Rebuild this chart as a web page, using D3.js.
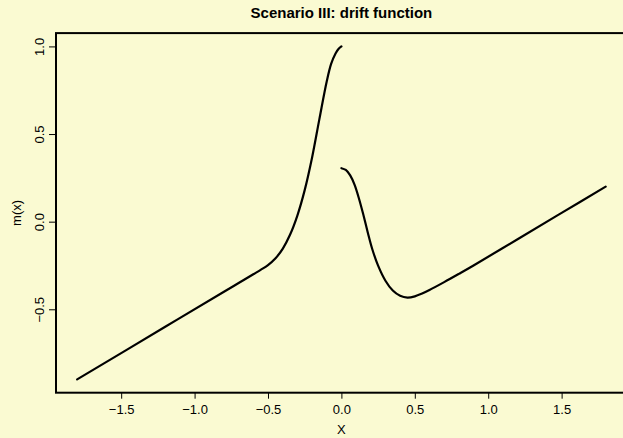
<!DOCTYPE html>
<html>
<head>
<meta charset="utf-8">
<script src="https://cdn.jsdelivr.net/npm/d3@7"></script>
<style>
  html, body { margin: 0; padding: 0; background: #FAFAD2; }
  svg { display: block; }
  text { font-family: "Liberation Sans", Arial, Helvetica, sans-serif; fill: #000; }
</style>
</head>
<body>
<svg id="chart" width="623" height="438"></svg>
<script>
// ---- data ----
const leftX  = [-1.8, -1.2, -0.8, -0.7, -0.6, -0.55, -0.5, -0.45, -0.4, -0.35, -0.3, -0.25, -0.2, -0.15, -0.1, -0.07, -0.04, -0.02, 0.0];
const leftY  = [-0.9, -0.6, -0.4, -0.35, -0.3, -0.275, -0.2475, -0.21, -0.155, -0.075, 0.035, 0.18, 0.365, 0.585, 0.80, 0.90, 0.96, 0.985, 1.0];
const rightX = [0.0, 0.03, 0.06, 0.09, 0.12, 0.15, 0.18, 0.21, 0.25, 0.3, 0.35, 0.4, 0.45, 0.5, 0.55, 0.6, 0.7, 0.8, 0.9, 1.2, 1.5, 1.8];
const rightY = [0.305, 0.295, 0.264, 0.21, 0.131, 0.038, -0.063, -0.156, -0.251, -0.337, -0.393, -0.423, -0.433, -0.426, -0.41, -0.39, -0.345, -0.298, -0.25, -0.1, 0.05, 0.2];
const xTicks = [-1.5, -1.0, -0.5, 0.0, 0.5, 1.0, 1.5];
const yTicks = [-0.5, 0.0, 0.5, 1.0];
const titleText = "Scenario III: drift function";
const xLabel = "X";
const yLabel = "m(x)";

const svg = d3.select("#chart");
const W = 623, H = 438;
svg.append("rect").attr("width", W).attr("height", H).attr("fill", "#FAFAD2");

// plot region (R-style 4% extension of data range)
const x = d3.scaleLinear().domain([-1.944, 1.944]).range([56, 626.8]);
const y = d3.scaleLinear().domain([-0.976, 1.076]).range([392.7, 33.1]);

const fmt = d => d.toFixed(1).replace("-", "\u2212");
const FONT = '"Liberation Sans", Arial, sans-serif';

// box
svg.append("rect")
  .attr("x", x.range()[0]).attr("y", y.range()[1])
  .attr("width", x.range()[1] - x.range()[0])
  .attr("height", y.range()[0] - y.range()[1])
  .attr("fill", "none").attr("stroke", "#000").attr("stroke-width", 2);

// x axis
const xAxis = d3.axisBottom(x).tickValues(xTicks).tickFormat(fmt).tickSize(6).tickPadding(4);
const gx = svg.append("g").attr("transform", `translate(0,${y.range()[0]})`).call(xAxis);
gx.select(".domain").remove();
gx.selectAll(".tick line").attr("stroke", "#000").attr("stroke-width", 1);
gx.selectAll(".tick text").style("font-size", "13px").attr("fill", "#000")
  .style("font-family", FONT).attr("y", 21.5).attr("dy", null);

// y axis
const yAxis = d3.axisLeft(y).tickValues(yTicks).tickFormat(fmt).tickSize(7).tickPadding(4);
const gy = svg.append("g").attr("transform", `translate(${x.range()[0]},0)`).call(yAxis);
gy.select(".domain").remove();
gy.selectAll(".tick line").attr("stroke", "#000").attr("stroke-width", 1);
gy.selectAll(".tick text")
  .style("font-size", "13px").attr("fill", "#000")
  .style("font-family", FONT)
  .attr("text-anchor", "middle")
  .attr("x", null).attr("y", null).attr("dy", null)
  .attr("transform", "translate(-12.5,0) rotate(-90)");

// lines
const line = d3.line().x(d => x(d[0])).y(d => y(d[1])).curve(d3.curveCatmullRom.alpha(0.5));
const leftPts = leftX.map((v, i) => [v, leftY[i]]);
const rightPts = rightX.map((v, i) => [v, rightY[i]]);
[leftPts, rightPts].forEach(p => {
  svg.append("path").attr("d", line(p))
    .attr("fill", "none").attr("stroke", "#000").attr("stroke-width", 2.2)
    .attr("stroke-linejoin", "round").attr("stroke-linecap", "round");
});

// title and labels
svg.append("text").attr("x", (x.range()[0] + x.range()[1]) / 2).attr("y", 18)
  .attr("text-anchor", "middle").style("font-size", "15px").style("font-weight", "bold")
  .text(titleText);
svg.append("text").attr("x", (x.range()[0] + x.range()[1]) / 2).attr("y", 434)
  .attr("text-anchor", "middle").style("font-size", "13px").text(xLabel);
svg.append("text").attr("transform", `translate(21,${(y.range()[0] + y.range()[1]) / 2}) rotate(-90)`)
  .attr("text-anchor", "middle").style("font-size", "13px").text(yLabel);
</script>
</body>
</html>
